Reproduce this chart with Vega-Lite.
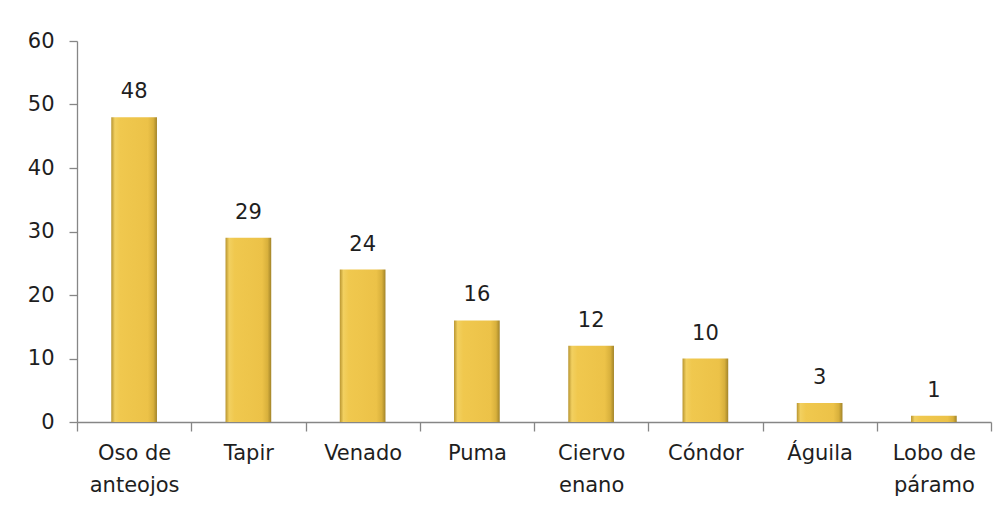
{
  "$schema": "https://vega.github.io/schema/vega-lite/v6.json",
  "width": 914,
  "height": 381,
  "autosize": "none",
  "padding": {"left": 77, "top": 41, "right": 17, "bottom": 92},
  "background": "#ffffff",
  "config": {
    "view": {"stroke": null},
    "font": "DejaVu Sans",
    "axis": {
      "labelFont": "DejaVu Sans",
      "labelFontSize": 21,
      "labelColor": "#1e1e1e",
      "domainColor": "#868686",
      "tickColor": "#868686",
      "domainWidth": 1.3,
      "tickWidth": 1.3,
      "grid": false,
      "title": null
    }
  },
  "data": {
    "values": [
      {"especie": "Oso de\nanteojos", "n": 48},
      {"especie": "Tapir", "n": 29},
      {"especie": "Venado", "n": 24},
      {"especie": "Puma", "n": 16},
      {"especie": "Ciervo\nenano", "n": 12},
      {"especie": "Cóndor", "n": 10},
      {"especie": "Águila", "n": 3},
      {"especie": "Lobo de\npáramo", "n": 1}
    ]
  },
  "encoding": {
    "x": {
      "field": "especie",
      "type": "nominal",
      "sort": null,
      "scale": {"paddingInner": 0, "paddingOuter": 0},
      "axis": {
        "labelAngle": 0,
        "tickBand": "extent",
        "tickSize": 9,
        "labelPadding": 11,
        "labelExpr": "split(datum.label, '\\n')",
        "labelLineHeight": 32,
        "labelBaseline": "top"
      }
    },
    "y": {
      "field": "n",
      "type": "quantitative",
      "scale": {"domain": [0, 60]},
      "axis": {"values": [0, 10, 20, 30, 40, 50, 60], "tickSize": 8, "labelPadding": 15}
    }
  },
  "layer": [
    {
      "mark": {
        "type": "bar",
        "width": {"band": 0.4},
        "color": {
          "gradient": "linear",
          "x1": 0, "x2": 1, "y1": 0, "y2": 0,
          "stops": [
            {"offset": 0, "color": "#b89530"},
            {"offset": 0.08, "color": "#f2d060"},
            {"offset": 0.2, "color": "#f0c84e"},
            {"offset": 0.8, "color": "#ecc248"},
            {"offset": 0.92, "color": "#d8b03c"},
            {"offset": 1, "color": "#a2842a"}
          ]
        }
      }
    },
    {
      "mark": {"type": "text", "baseline": "alphabetic", "dy": -19, "fontSize": 21, "color": "#1e1e1e"},
      "encoding": {"text": {"field": "n", "type": "quantitative"}}
    }
  ]
}
